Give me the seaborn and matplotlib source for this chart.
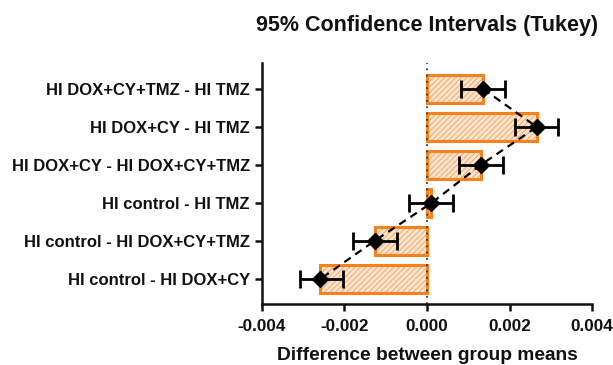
import numpy as np
import pandas as pd
import matplotlib
matplotlib.use('Agg')
import matplotlib.pyplot as plt
import seaborn as sns

# Tukey comparisons, top to bottom
comparisons = ['HI DOX+CY+TMZ - HI TMZ',
               'HI DOX+CY - HI TMZ',
               'HI DOX+CY - HI DOX+CY+TMZ',
               'HI control - HI TMZ',
               'HI control - HI DOX+CY+TMZ',
               'HI control - HI DOX+CY']
mean_diff = [0.00136, 0.00266, 0.00130, 0.00011, -0.00127, -0.00258]
ci_low = [0.00082, 0.00213, 0.00077, -0.00043, -0.00178, -0.00308]
ci_high = [0.00189, 0.00317, 0.00183, 0.00062, -0.00073, -0.00204]
xticks = [-0.004, -0.002, 0.000, 0.002, 0.004]

df = pd.DataFrame({'comparison': comparisons, 'diff': mean_diff,
                   'low': ci_low, 'high': ci_high})

sns.set_style('ticks')
plt.rcParams['font.family'] = ['Liberation Sans', 'DejaVu Sans']
plt.rcParams['font.weight'] = 'bold'
plt.rcParams['hatch.linewidth'] = 0.8
for k in ['text.color', 'axes.labelcolor', 'xtick.color', 'ytick.color',
          'axes.edgecolor']:
    plt.rcParams[k] = '#111111'

fig = plt.figure(figsize=(6.13, 3.65), dpi=100)
ax = fig.add_axes([0.427, 0.167, 0.539, 0.66])

# hatched fill
sns.barplot(data=df, x='diff', y='comparison', orient='h', ax=ax,
            color='#fde6d2', edgecolor='#f6ab6c', linewidth=0,
            hatch='//////', width=0.72, saturation=1)
# orange outline
sns.barplot(data=df, x='diff', y='comparison', orient='h', ax=ax,
            fill=False, edgecolor='#f5821f', linewidth=2.2, width=0.72)

ypos = np.arange(len(df))
ax.axvline(0, color='#333333', ls=(0, (1, 2.5)), lw=1.3, zorder=1)
ax.plot(df['diff'], ypos, color='black', ls=(0, (3.5, 2.5)), lw=1.6, zorder=3)
xerr = [df['diff'] - df['low'], df['high'] - df['diff']]
ax.errorbar(df['diff'], ypos, xerr=xerr, fmt='D', color='black',
            ms=8.5, elinewidth=2, capsize=6.5, capthick=2, zorder=4)

ax.set_xlim(-0.004, 0.004)
ax.set_ylim(len(df) - 0.34, -0.68)
ax.set_xticks(xticks)
ax.set_xticklabels([f'{t:.3f}' for t in xticks])
ax.set_ylabel('')
ax.set_xlabel('Difference between group means', fontsize=13.8,
              fontweight='bold', labelpad=9)
ax.set_title('95% Confidence Intervals (Tukey)', fontsize=15.5,
             fontweight='bold', pad=23)
ax.tick_params(axis='x', labelsize=12.3, width=1.8, length=5, pad=6)
ax.tick_params(axis='y', labelsize=12, width=1.8, length=5)
for s in ['top', 'right']:
    ax.spines[s].set_visible(False)
for s in ['left', 'bottom']:
    ax.spines[s].set_linewidth(1.8)

fig.savefig('out.png', dpi=100)
